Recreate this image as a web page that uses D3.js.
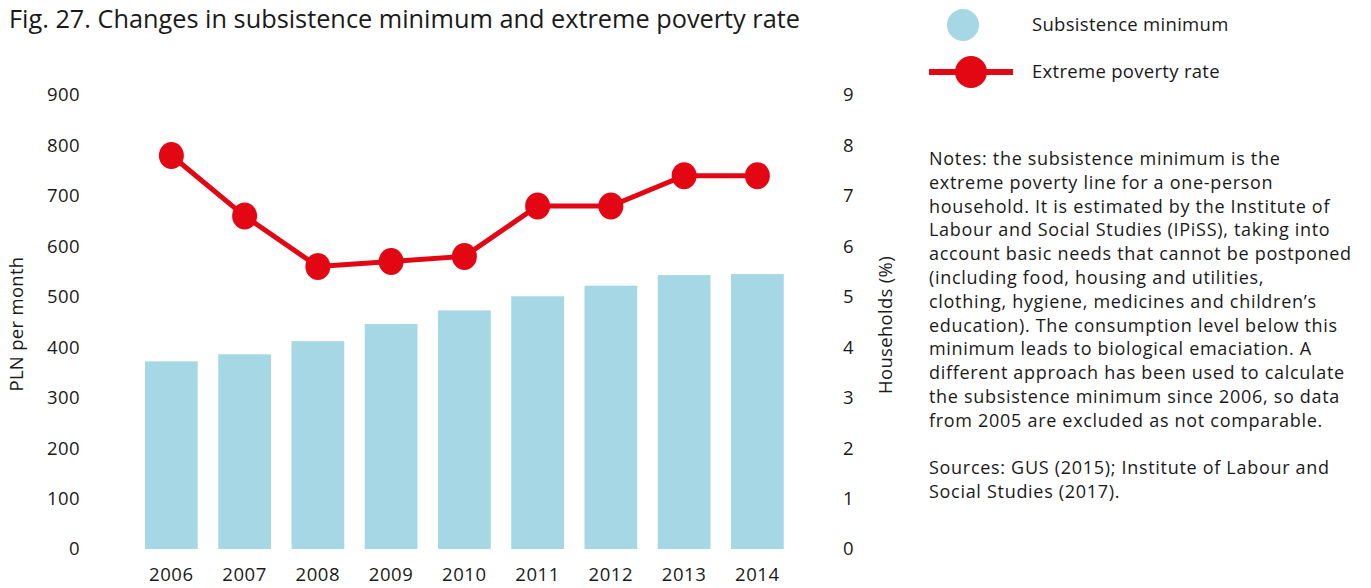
<!DOCTYPE html>
<html>
<head>
<meta charset="utf-8">
<script src="https://cdn.jsdelivr.net/npm/d3@7"></script>
<style>
  body { margin: 0; background: #fff; }
  svg text { font-family: "Open Sans", "Noto Sans", sans-serif; fill: #1a1a1a; }
</style>
</head>
<body>
<svg id="chart" width="1371" height="588"></svg>
<script>
// data
var years = ["2006", "2007", "2008", "2009", "2010", "2011", "2012", "2013", "2014"];
var subsistenceMin = [372, 386, 412, 446, 473, 501, 522, 543, 545];
var povertyRate = [7.8, 6.6, 5.6, 5.7, 5.8, 6.8, 6.8, 7.4, 7.4];
var leftTicks = [0, 100, 200, 300, 400, 500, 600, 700, 800, 900];
var rightTicks = [0, 1, 2, 3, 4, 5, 6, 7, 8, 9];
var noteLines = [
  "Notes: the subsistence minimum is the",
  "extreme poverty line for a one-person",
  "household. It is estimated by the Institute of",
  "Labour and Social Studies (IPiSS), taking into",
  "account basic needs that cannot be postponed",
  "(including food, housing and utilities,",
  "clothing, hygiene, medicines and children\u2019s",
  "education). The consumption level below this",
  "minimum leads to biological emaciation. A",
  "different approach has been used to calculate",
  "the subsistence minimum since 2006, so data",
  "from 2005 are excluded as not comparable."
];
var sourceLines = [
  "Sources: GUS (2015); Institute of Labour and",
  "Social Studies (2017)."
];

var barColor = "#a5d8e4";
var red = "#e30613";

var svg = d3.select("#chart");

// title
svg.append("text")
  .attr("x", 9).attr("y", 28)
  .style("font-size", "25.3px")
  .text("Fig. 27. Changes in subsistence minimum and extreme poverty rate");

// scales
var x = d3.scaleBand().domain(years).range([134.75, 794]).paddingInner(0.28).paddingOuter(0.14);
var yLeft = d3.scaleLinear().domain([0, 900]).range([549, 95]);
var yRight = d3.scaleLinear().domain([0, 9]).range([549, 95]);

// bars
svg.append("g")
  .selectAll("rect")
  .data(years)
  .enter()
  .append("rect")
  .attr("x", function (d) { return x(d); })
  .attr("width", x.bandwidth())
  .attr("y", function (d, i) { return yLeft(subsistenceMin[i]); })
  .attr("height", function (d, i) { return yLeft(0) - yLeft(subsistenceMin[i]); })
  .attr("fill", barColor);

// left axis
var gl = svg.append("g")
  .attr("transform", "translate(80,0)")
  .call(d3.axisLeft(yLeft).tickValues(leftTicks).tickSize(0).tickPadding(0));
gl.select(".domain").remove();
gl.selectAll("text").style("font-size", "18.5px").style("letter-spacing", "0.4px").attr("fill", "#1a1a1a");

// right axis
var gr = svg.append("g")
  .attr("transform", "translate(843,0)")
  .call(d3.axisRight(yRight).tickValues(rightTicks).tickSize(0).tickPadding(0));
gr.select(".domain").remove();
gr.selectAll("text").style("font-size", "18.5px").attr("fill", "#1a1a1a");

// x axis (kept just inside the bottom edge)
var gx = svg.append("g")
  .attr("transform", "translate(0,568)")
  .call(d3.axisBottom(x).tickSize(0).tickPadding(0));
gx.select(".domain").remove();
gx.selectAll("text").style("font-size", "18.5px").style("letter-spacing", "0.6px").attr("fill", "#1a1a1a");

// axis titles
svg.append("text")
  .attr("transform", "translate(23,324) rotate(-90)")
  .attr("text-anchor", "middle")
  .style("font-size", "18.5px")
  .style("letter-spacing", "0.3px")
  .text("PLN per month");
svg.append("text")
  .attr("transform", "translate(892,325) rotate(-90)")
  .attr("text-anchor", "middle")
  .style("font-size", "18.5px")
  .style("letter-spacing", "0.3px")
  .text("Households (%)");

// poverty line
var line = d3.line()
  .x(function (d, i) { return x(years[i]) + x.bandwidth() / 2; })
  .y(function (d) { return yRight(d); });
svg.append("path")
  .datum(povertyRate)
  .attr("d", line)
  .attr("fill", "none")
  .attr("stroke", red)
  .attr("stroke-width", 5);
svg.append("g")
  .selectAll("ellipse")
  .data(povertyRate)
  .enter()
  .append("ellipse")
  .attr("cx", function (d, i) { return x(years[i]) + x.bandwidth() / 2; })
  .attr("cy", function (d) { return yRight(d); })
  .attr("rx", 12.5)
  .attr("ry", 13.5)
  .attr("fill", red);

// legend
var lg = svg.append("g");
lg.append("circle").attr("cx", 963).attr("cy", 25).attr("r", 16).attr("fill", barColor);
lg.append("text").attr("x", 1032).attr("y", 31).style("font-size", "18.5px").style("letter-spacing", "0.3px").text("Subsistence minimum");
lg.append("line").attr("x1", 929).attr("x2", 1013).attr("y1", 72).attr("y2", 72)
  .attr("stroke", red).attr("stroke-width", 6);
lg.append("circle").attr("cx", 971).attr("cy", 72).attr("r", 16).attr("fill", red);
lg.append("text").attr("x", 1032).attr("y", 78).style("font-size", "18.5px").style("letter-spacing", "0.3px").text("Extreme poverty rate");

// notes
var notes = svg.append("g").attr("transform", "translate(929,0)");
notes.selectAll("text.note")
  .data(noteLines)
  .enter()
  .append("text")
  .attr("class", "note")
  .attr("x", 0)
  .attr("y", function (d, i) { return 165 + i * 23.8; })
  .style("font-size", "18px")
  .style("letter-spacing", "0.7px")
  .text(function (d) { return d; });
notes.selectAll("text.src")
  .data(sourceLines)
  .enter()
  .append("text")
  .attr("class", "src")
  .attr("x", 0)
  .attr("y", function (d, i) { return 474 + i * 23.8; })
  .style("font-size", "18px")
  .style("letter-spacing", "0.7px")
  .text(function (d) { return d; });
</script>
</body>
</html>
